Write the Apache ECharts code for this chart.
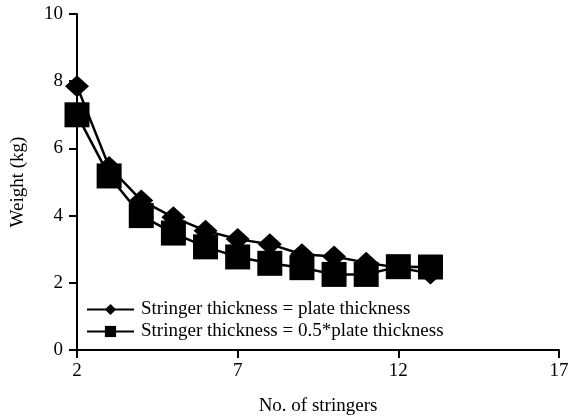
<!DOCTYPE html>
<html><head><meta charset="utf-8">
<script src="https://cdn.jsdelivr.net/npm/echarts@6/dist/echarts.min.js"></script>
<style>html,body{margin:0;padding:0;background:#fff}#c{width:568px;height:420px}</style>
</head><body><div id="c"></div>
<script>
const stringers = [2,3,4,5,6,7,8,9,10,11,12,13];
const equalThickness = [7.85,5.45,4.45,3.95,3.55,3.3,3.15,2.85,2.78,2.6,2.45,2.28];
const halfThickness = [7.0,5.18,4.0,3.48,3.07,2.77,2.58,2.45,2.25,2.25,2.48,2.47];
const seriesNames = ['Stringer thickness = plate thickness','Stringer thickness = 0.5*plate thickness'];
const xTitle = 'No. of stringers';
const yTitle = 'Weight (kg)';

const font = 'Liberation Serif';
const fs = 19;
const chart = echarts.init(document.getElementById('c'));
chart.setOption({
  animation:false,
  textStyle:{fontFamily:font,color:'#000'},
  grid:{left:77,right:9,top:14,bottom:70,containLabel:false,outerBoundsMode:'none'},
  legend:{left:86,top:300,padding:0,orient:'vertical',itemWidth:47,itemHeight:14,itemGap:3,
    textStyle:{fontFamily:font,fontSize:fs,color:'#000',padding:[0,0,0,2]},
    data:seriesNames},
  xAxis:{type:'value',min:2,max:17,interval:5,name:xTitle,nameLocation:'middle',nameGap:47,
    nameTextStyle:{fontFamily:font,fontSize:fs,color:'#000'},
    axisLine:{lineStyle:{color:'#000',width:2}},
    axisTick:{length:8,lineStyle:{color:'#000',width:2}},
    axisLabel:{fontFamily:font,fontSize:fs,color:'#000',margin:12},
    splitLine:{show:false}},
  yAxis:{type:'value',min:0,max:10,interval:2,name:yTitle,nameLocation:'middle',nameGap:49,
    nameTextStyle:{fontFamily:font,fontSize:fs,color:'#000'},
    axisLine:{show:true,lineStyle:{color:'#000',width:2}},
    axisTick:{show:true,length:8,lineStyle:{color:'#000',width:2}},
    axisLabel:{fontFamily:font,fontSize:fs,color:'#000',margin:14},
    splitLine:{show:false}},
  series:[
    {name:seriesNames[0],type:'line',data:stringers.map((x,i)=>[x,equalThickness[i]]),
     symbol:'diamond',symbolSize:[24,22],itemStyle:{color:'#000'},lineStyle:{color:'#000',width:2.5},z:2},
    {name:seriesNames[1],type:'line',data:stringers.map((x,i)=>[x,halfThickness[i]]),
     symbol:'rect',symbolSize:25,itemStyle:{color:'#000'},lineStyle:{color:'#000',width:2.5},z:3}
  ]
});
</script></body></html>
